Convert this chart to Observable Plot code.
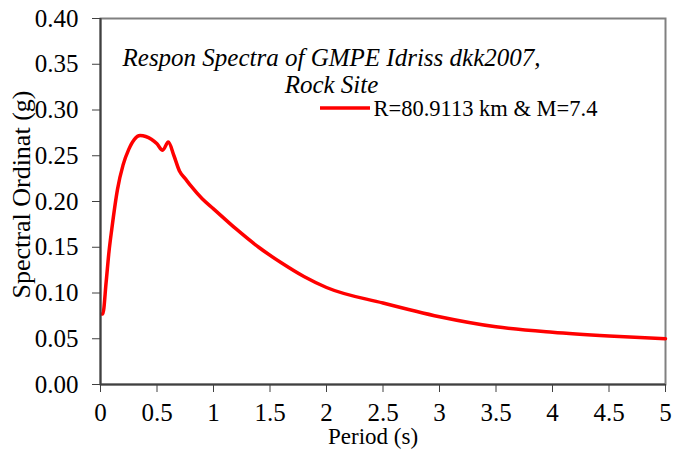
<!DOCTYPE html>
<html>
<head>
<meta charset="utf-8">
<script src="https://cdn.jsdelivr.net/npm/d3@7"></script>
<script src="https://cdn.jsdelivr.net/npm/@observablehq/plot@0.6"></script>
<style>
  html, body { margin: 0; padding: 0; background: #fff; }
  #chart svg { display: block; }
  #chart svg, #chart svg text { font-family: "Liberation Serif", serif !important; }
</style>
</head>
<body>
<div id="chart"></div>
<script>
const period = [0.01, 0.02, 0.05, 0.075, 0.1, 0.15, 0.2, 0.25, 0.3, 0.35, 0.4, 0.45, 0.5, 0.55, 0.6, 0.65, 0.7, 0.75, 0.8, 0.9, 1.0, 1.2, 1.4, 1.6, 1.8, 2.0, 2.5, 3.0, 3.5, 4.0, 4.5, 5.0];
const sa = [0.077, 0.077, 0.112, 0.145, 0.170, 0.213, 0.240, 0.257, 0.268, 0.272, 0.271, 0.268, 0.263, 0.256, 0.265, 0.250, 0.233, 0.225, 0.217, 0.203, 0.192, 0.170, 0.150, 0.133, 0.118, 0.106, 0.089, 0.074, 0.063, 0.057, 0.053, 0.050];
const xTicks = [0, 0.5, 1, 1.5, 2, 2.5, 3, 3.5, 4, 4.5, 5];
const xTickLabels = ["0", "0.5", "1", "1.5", "2", "2.5", "3", "3.5", "4", "4.5", "5"];
const yTicks = [0, 0.05, 0.10, 0.15, 0.20, 0.25, 0.30, 0.35, 0.40];
const titleLines = ["Respon Spectra of GMPE Idriss dkk2007,", "Rock Site"];
const seriesName = "R=80.9113 km & M=7.4";
const xLabel = "Period (s)";
const yLabel = "Spectral Ordinat (g)";

const data = period.map((t, i) => ({t, sa: sa[i]}));

const plot = Plot.plot({
  width: 673,
  height: 451,
  marginLeft: 100,
  marginRight: 8,
  marginTop: 18,
  marginBottom: 67,
  style: {fontSize: "22px", color: "#000", background: "#fff"},
  x: {domain: [0, 5]},
  y: {domain: [0, 0.40]},
  marks: [
    Plot.frame({stroke: "#808080", strokeWidth: 2}),
    Plot.line(data, {x: "t", y: "sa", stroke: "#ff0000", strokeWidth: 3.5, curve: "monotone-x"}),
    Plot.ruleX([0], {stroke: "#404040", strokeWidth: 2}),
    Plot.ruleY([0], {stroke: "#404040", strokeWidth: 2}),
    Plot.axisX({ticks: xTicks, tickFormat: (d, i) => xTickLabels[i], tickSize: 8, tickPadding: 11, stroke: "#404040", fontSize: 25, label: null}),
    Plot.axisY({ticks: yTicks, tickFormat: d => d.toFixed(2), tickSize: 8, tickPadding: 14, stroke: "#404040", fontSize: 25, label: null}),
    Plot.text([xLabel], {frameAnchor: "bottom", dx: -10, dy: 59, fontSize: 23, lineAnchor: "bottom", text: d => d}),
    Plot.text([yLabel], {frameAnchor: "left", dx: -79, dy: -7, rotate: -90, textAnchor: "middle", lineAnchor: "middle", fontSize: 26, text: d => d}),
    Plot.text([titleLines[0]], {frameAnchor: "top-left", dx: 231, dy: 47, lineAnchor: "bottom", textAnchor: "middle", fontSize: 25, fontStyle: "italic", text: d => d}),
    Plot.text([titleLines[1]], {frameAnchor: "top-left", dx: 231, dy: 74, lineAnchor: "bottom", textAnchor: "middle", fontSize: 25, fontStyle: "italic", text: d => d}),
    Plot.text([seriesName], {frameAnchor: "top-left", dx: 273, dy: 90, textAnchor: "start", lineAnchor: "middle", fontSize: 22.5, text: d => d})
  ]
});

// make sure tick labels use the intended size
d3.select(plot).selectAll('g[aria-label="x-axis tick label"] text, g[aria-label="y-axis tick label"] text').style("font-size", "25px");

// legend swatch
d3.select(plot).append("line")
  .attr("x1", 320).attr("x2", 370).attr("y1", 108).attr("y2", 108)
  .attr("stroke", "#ff0000").attr("stroke-width", 3.5);

document.getElementById("chart").appendChild(plot);
</script>
</body>
</html>
